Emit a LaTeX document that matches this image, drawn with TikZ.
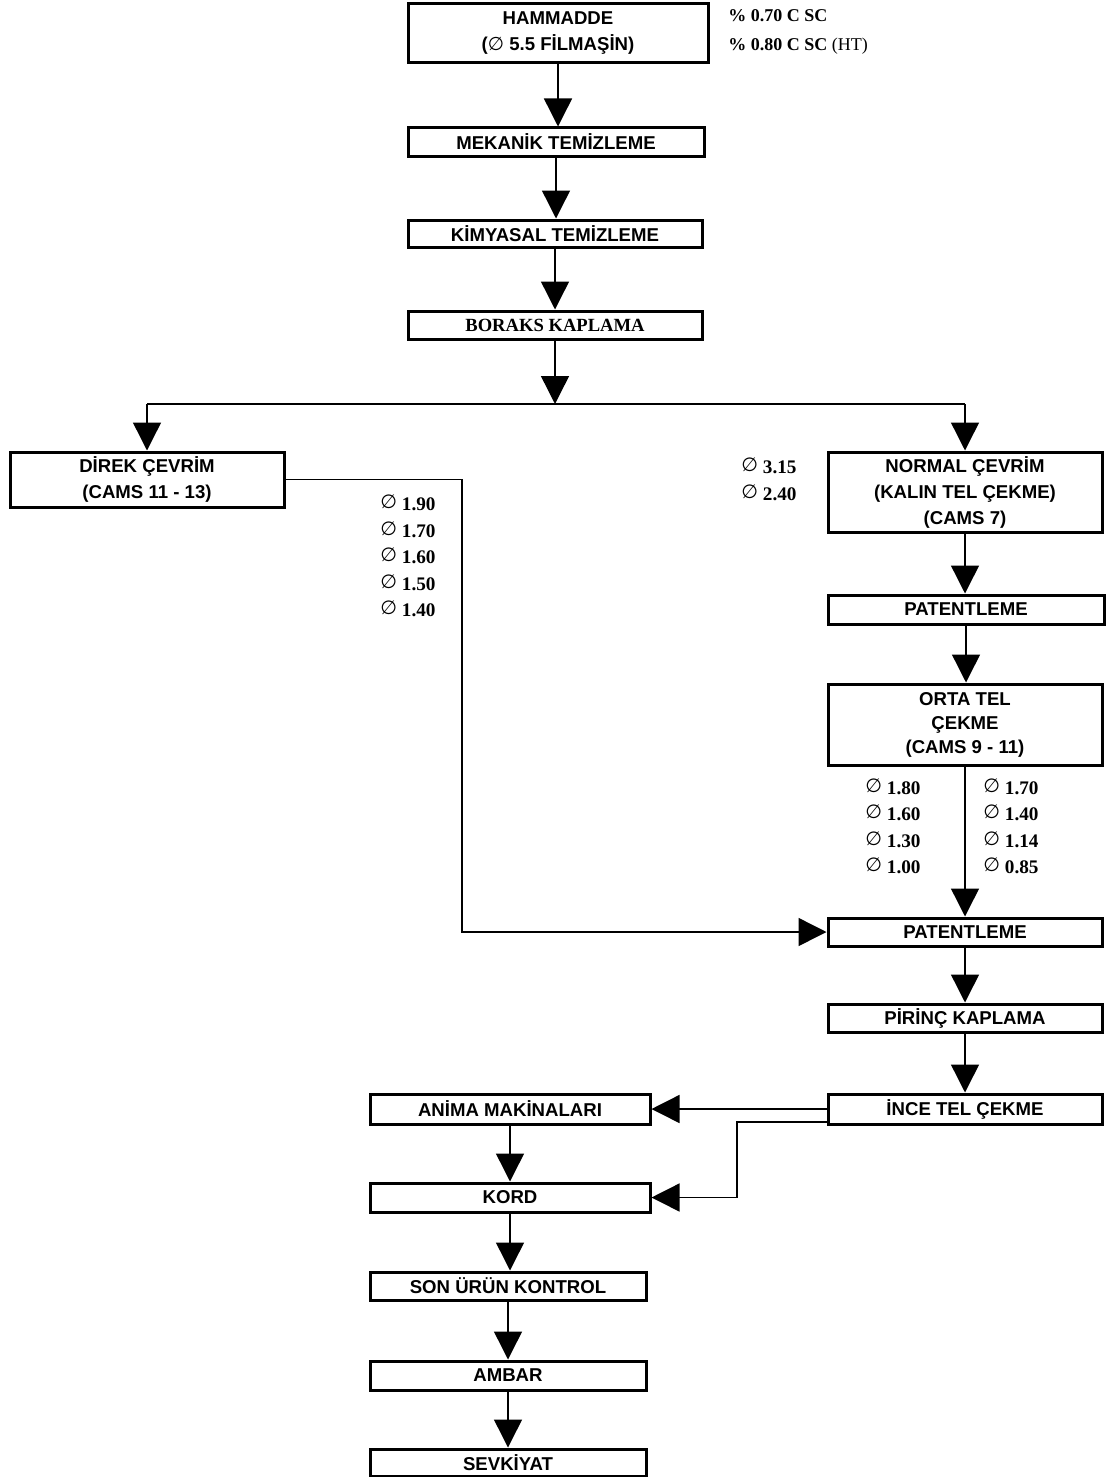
\documentclass[tikz,border=0pt]{standalone}
\usepackage{fontspec}
\setmainfont{Liberation Serif}
\newfontfamily\arialf{Liberation Sans}
\newfontfamily\symf{DejaVu Sans}
\usetikzlibrary{arrows.meta}
\newcommand{\dia}{{\symf\mdseries ∅}}
\newcommand{\ndia}{\raisebox{1pt}{\symf\mdseries ∅}}

\begin{document}
\begin{tikzpicture}[x=0.5pt, y=-0.5pt,
  box/.style={draw, line width=1.5pt, inner sep=0pt, align=center,
    minimum width=137pt, minimum height=14pt,
    font=\arialf\bfseries\fontsize{9.3}{13}\selectfont},
  num/.style={anchor=west, inner sep=0pt, align=left,
    font=\bfseries\fontsize{9.6}{13.2}\selectfont},
  arr/.style={line width=0.7pt, -{Triangle[width=14pt, length=14pt]}},
  link/.style={line width=0.7pt}]

  \useasboundingbox (0,0) rectangle (1105,1477);

  % main line, top part
  \node[box, minimum width=150pt, minimum height=29.5pt] (ham) at (558,33.5)
    {HAMMADDE\\(\dia{} 5.5 FİLMAŞİN)};
  \node[box, minimum width=148pt] (mek) at (556,142) {MEKANİK TEMİZLEME};
  \node[box, minimum width=147pt, minimum height=13.5pt] (kim) at (555,233.5) {KİMYASAL TEMİZLEME};
  \node[box, minimum width=147pt, font=\bfseries\fontsize{9.3}{13}\selectfont] (bor) at (555,325)
    {BORAKS KAPLAMA};

  \node[num, anchor=north west, font=\bfseries\fontsize{9}{14.5}\selectfont] (hamnote) at (728,9)
    {\% 0.70 C SC\\\% 0.80 C SC {\mdseries (HT)}};

  % two routes
  \node[box, minimum height=27.5pt] (dir) at (147,479.5) {DİREK ÇEVRİM\\(CAMS 11 - 13)};
  \node[box, minimum height=40pt] (nor) at (965,492)
    {NORMAL ÇEVRİM\\(KALIN TEL ÇEKME)\\(CAMS 7)};
  \node[box, minimum width=138pt, minimum height=14.5pt] (pat1) at (966,609.5) {PATENTLEME};
  \node[box, minimum height=40.5pt, font=\arialf\bfseries\fontsize{9.3}{12}\selectfont] (orta) at (965,724.5)
    {ORTA TEL\\ÇEKME\\(CAMS 9 - 11)};
  \node[box] (pat2) at (965,932) {PATENTLEME};
  \node[box] (pir) at (965,1018) {PİRİNÇ KAPLAMA};
  \node[box, minimum height=15pt] (ince) at (965,1109) {İNCE TEL ÇEKME};

  \node[num] (dirsize) at (380,556)
    {\ndia{} 1.90\\\ndia{} 1.70\\\ndia{} 1.60\\\ndia{} 1.50\\\ndia{} 1.40};
  \node[num] (norsize) at (741,479.5) {\ndia{} 3.15\\\ndia{} 2.40};
  \node[num] (ortasizea) at (865,826.5) {\ndia{} 1.80\\\ndia{} 1.60\\\ndia{} 1.30\\\ndia{} 1.00};
  \node[num] (ortasizeb) at (983,826.5) {\ndia{} 1.70\\\ndia{} 1.40\\\ndia{} 1.14\\\ndia{} 0.85};

  % lower part
  \node[box, minimum width=140pt, minimum height=15pt] (anim) at (510,1109) {ANİMA MAKİNALARI};
  \node[box, minimum width=140pt, minimum height=14.5pt] (kord) at (510,1197.5) {KORD};
  \node[box, minimum width=138pt] (son) at (508,1286) {SON ÜRÜN KONTROL};
  \node[box, minimum width=138pt, minimum height=14.5pt] (amb) at (508,1375.5) {AMBAR};
  \node[box, minimum width=138pt, minimum height=13.5pt] (sev) at (508,1462.5) {SEVKİYAT};

  % connectors
  \draw[arr] (ham.south) -- (ham.south |- mek.north);
  \draw[arr] (mek.south) -- (mek.south |- kim.north);
  \draw[arr] (kim.south) -- (kim.south |- bor.north);

  \coordinate (split) at (555,404);
  \draw[arr] (bor.south) -- (split);
  \draw[link] (split -| dir.north) -- (split -| nor.north);
  \draw[arr] (split -| dir.north) -- (dir.north);
  \draw[arr] (split -| nor.north) -- (nor.north);

  \coordinate (dcorner) at (462,481);
  \draw[arr] (dir.east) -- (dir.east -| dcorner) |- (pat2.west);

  \draw[arr] (nor.south) -- (nor.south |- pat1.north);
  \draw[arr] (pat1.south) -- (pat1.south |- orta.north);
  \draw[arr] (orta.south) -- (orta.south |- pat2.north);
  \draw[arr] (pat2.south) -- (pat2.south |- pir.north);
  \draw[arr] (pir.south) -- (pir.south |- ince.north);

  \draw[arr] (ince.west) -- (anim.east);
  \coordinate (icorner) at (737,1122);
  \draw[arr] (icorner -| ince.west) -- (icorner) |- (kord.east);

  \draw[arr] (anim.south) -- (anim.south |- kord.north);
  \draw[arr] (kord.south) -- (kord.south |- son.north);
  \draw[arr] (son.south) -- (son.south |- amb.north);
  \draw[arr] (amb.south) -- (amb.south |- sev.north);
\end{tikzpicture}
\end{document}
